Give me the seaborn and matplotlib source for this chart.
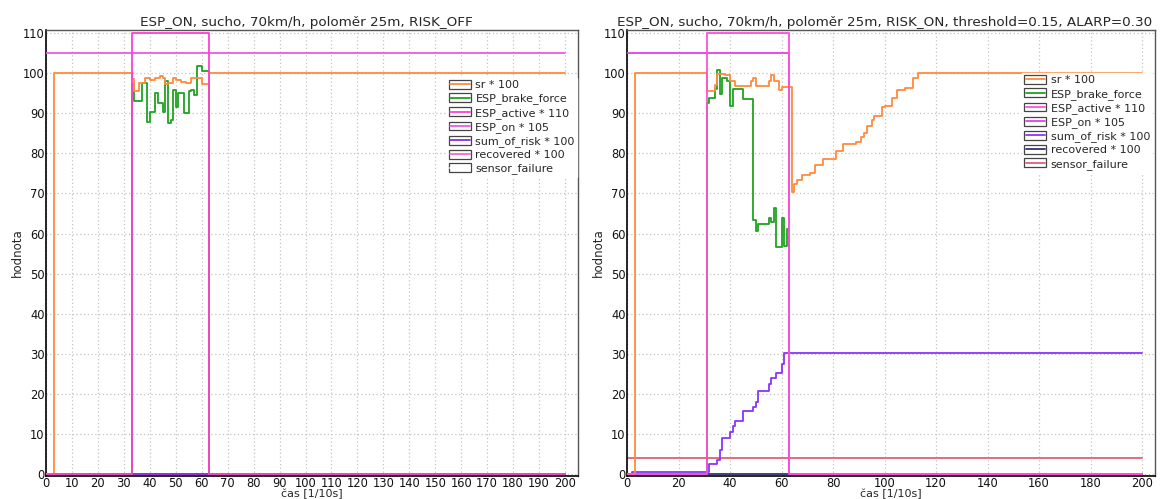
import numpy as np
import pandas as pd
import matplotlib
matplotlib.use("Agg")
import matplotlib.pyplot as plt
import seaborn as sns
from matplotlib.legend_handler import HandlerBase
from matplotlib.patches import Rectangle
from matplotlib.lines import Line2D

# ---------------- data (step breakpoints: time [1/10 s], value) ----------------
T_END = 200
labels = ["sr * 100", "ESP_brake_force", "ESP_active * 110", "ESP_on * 105",
          "sum_of_risk * 100", "recovered * 100", "sensor_failure"]

# Left chart: RISK_OFF
L_sr_t = [0, 3, 33, 34, 36, 38, 40, 42, 44, 45, 46, 47, 49, 50, 52, 54, 56, 57, 60, 63]
L_sr_v = [0, 100, 98.5, 95.5, 97.6, 98.9, 98.3, 98.9, 99.4, 98.9, 97.2, 97.6, 98.9, 98.3, 97.8, 97.6, 98.9, 98.9, 97.2, 100]
L_bf_t = [0, 33, 34, 37, 39, 40, 42, 43, 45, 46, 47, 48, 49, 50, 51, 53, 55, 56, 57, 58, 60, 63]
L_bf_v = [0, 97.2, 93.0, 97.6, 87.9, 90.4, 95.1, 92.5, 90.4, 98.0, 87.5, 88.3, 95.9, 91.7, 95.1, 90.0, 95.5, 95.9, 94.7, 101.7, 100.6, 0]
L_act_t = [0, 33, 63]
L_act_v = [0, 110, 0]
L_on_t = [0]
L_on_v = [105]
L_risk_t = [0]
L_risk_v = [0]
L_rec_t = [0]
L_rec_v = [0]
L_sf_t = [0]
L_sf_v = [0]

# Right chart: RISK_ON, threshold=0.15, ALARP=0.30
R_sr_t = [0, 3, 31, 34, 35, 38, 40, 42, 48, 49, 50, 55, 56, 57, 59, 60, 64, 65, 66, 68, 71, 73,
          76, 81, 84, 89, 91, 92, 93, 95, 96, 99, 100, 103, 105, 108, 111, 113]
R_sr_v = [0, 100, 95.5, 97.0, 99.7, 99.5, 98.0, 96.8, 98.0, 98.8, 96.8, 98.0, 99.5, 98.0, 95.8, 96.6,
          70.3, 72.4, 73.4, 74.5, 75.0, 77.0, 78.6, 80.7, 82.3, 82.8, 84.0, 85.2, 86.9, 88.3, 89.4,
          91.5, 91.9, 93.8, 95.8, 96.3, 98.9, 100]
R_bf_t = [0, 31, 32, 34, 35, 36, 37, 39, 40, 41, 45, 49, 50, 51, 55, 56, 57, 58, 60, 61, 62, 63]
R_bf_v = [0, 92.7, 93.8, 96.0, 100.7, 94.8, 98.8, 98.0, 91.9, 96.0, 93.5, 63.4, 60.6, 62.4, 64.0,
          62.8, 66.4, 56.7, 64.0, 57.0, 61.2, 0]
R_act_t = [0, 31, 63]
R_act_v = [0, 110, 0]
R_on_t = [0, 63]
R_on_v = [105, 0]
R_risk_t = [0, 2, 32, 35, 36, 37, 40, 41, 42, 45, 49, 50, 51, 55, 56, 58, 60, 61]
R_risk_v = [0, 0.6, 2.5, 3.5, 6.1, 9.0, 10.6, 12.1, 13.3, 15.7, 16.8, 17.9, 20.75, 22.5, 24.0,
            25.25, 27.5, 30.25]
R_rec_t = [0]
R_rec_v = [0]
R_sf_t = [0]
R_sf_v = [4.0]

L_colors = ["#ff8a3d", "#1fa31f", "#ff3fcf", "#e85ae8", "#8a2be2", "#ff66cc", "#ffffff"]
R_colors = ["#ff8a3d", "#1fa31f", "#ff4fd8", "#e040e8", "#8a33ff", "#33336e", "#e0607a"]


def step_frame(t, v, name):
    t = list(t) + [T_END]
    v = list(v) + [v[-1]]
    return pd.DataFrame({"t": t, "v": v, "series": name})


class BoxLine(HandlerBase):
    def create_artists(self, legend, orig_handle, xdescent, ydescent, width, height, fontsize, trans):
        r = Rectangle((-xdescent, -ydescent), width, height, facecolor="white",
                      edgecolor="#444444", linewidth=0.9, transform=trans)
        ln = Line2D([-xdescent + 1, -xdescent + width - 1], [height / 2 - ydescent] * 2,
                    color=orig_handle.get_color(), linewidth=1.3, transform=trans)
        return [r, ln]


sns.set_theme(style="white")
plt.rcParams["font.family"] = ["DejaVu Sans"]

fig = plt.figure(figsize=(11.68, 4.99), dpi=100)
axL = fig.add_axes([46 / 1168, 1 - 476 / 499, 532 / 1168, 446 / 499])
axR = fig.add_axes([627 / 1168, 1 - 476 / 499, 528 / 1168, 446 / 499])

panels = [
    (axL, "ESP_ON, sucho, 70km/h, poloměr 25m, RISK_OFF",
     [(L_sr_t, L_sr_v), (L_bf_t, L_bf_v), (L_act_t, L_act_v), (L_on_t, L_on_v),
      (L_risk_t, L_risk_v), (L_rec_t, L_rec_v), (L_sf_t, L_sf_v)], L_colors, 10,
     (0.753, 0.893), 0.49),
    (axR, "ESP_ON, sucho, 70km/h, poloměr 25m, RISK_ON, threshold=0.15, ALARP=0.30",
     [(R_sr_t, R_sr_v), (R_bf_t, R_bf_v), (R_act_t, R_act_v), (R_on_t, R_on_v),
      (R_risk_t, R_risk_v), (R_rec_t, R_rec_v), (R_sf_t, R_sf_v)], R_colors, 20,
     (0.748, 0.904), 0.487),
]

z_order = [5, 4, 7, 6, 3, 2, 1]

for ax, title, series, colors, xstep, anchor, tx in panels:
    handles = []
    for i, ((t, v), name) in enumerate(zip(series, labels)):
        df = step_frame(t, v, name)
        sns.lineplot(data=df, x="t", y="v", ax=ax, color=colors[i], linewidth=1.3,
                     drawstyle="steps-post", estimator=None, sort=False, legend=False,
                     zorder=z_order[i])
        handles.append(Line2D([], [], color=colors[i]))
    ax.set_xlim(0, 205)
    ax.set_ylim(-0.5, 110.8)
    ax.set_xticks(np.arange(0, 201, xstep))
    ax.set_yticks(np.arange(0, 111, 10))
    ax.grid(True, color="#c4c4c4", linestyle=(0, (1, 2)), linewidth=0.9)
    ax.tick_params(axis="both", labelsize=8.3, length=0, pad=1, colors="#111111")
    ax.set_xlabel("čas [1/10s]", fontsize=8, labelpad=-1.0)
    ax.set_ylabel("hodnota", fontsize=8.5, labelpad=-0.5)
    ax.set_title(title, fontsize=9.7, pad=3, x=tx)
    for side in ["left", "bottom"]:
        ax.spines[side].set_color("#000000")
        ax.spines[side].set_linewidth(1.2)
    for side in ["right", "top"]:
        ax.spines[side].set_color("#555555")
        ax.spines[side].set_linewidth(1.0)
    leg = ax.legend(handles, labels, loc="upper left", bbox_to_anchor=anchor,
                    borderaxespad=0, borderpad=0.2, fontsize=8,
                    handler_map={Line2D: BoxLine()}, handlelength=2.0, handleheight=0.85,
                    handletextpad=0.4, labelspacing=0.27, frameon=True, fancybox=False,
                    framealpha=1, facecolor="white", edgecolor="white")
    leg.set_zorder(10)
    for txt in leg.get_texts():
        txt.set_clip_box(ax.bbox)
        txt.set_clip_on(True)

fig.savefig("out.png", dpi=100)
